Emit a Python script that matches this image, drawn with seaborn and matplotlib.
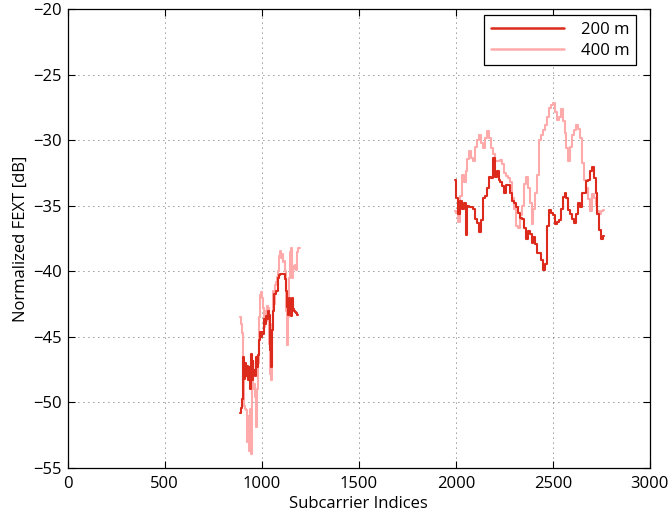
import numpy as np
import pandas as pd
import seaborn as sns
import matplotlib
matplotlib.use("Agg")
import matplotlib.pyplot as plt

# Subcarrier indices of the two measured bands
band_low_idx = list(range(890, 1196, 5))
band_high_idx = list(range(1995, 2766, 10))

# Normalized FEXT [dB], 200 m loop
fext_200_low = [
    -50.8, -50.4, -49.7, -46.5, -48.2, -47.0, -48.0, -47.2, -48.3, -47.3,
    -49.0, -46.3, -48.3, -46.8, -47.8, -47.5, -48.0, -46.5, -47.3, -46.4,
    -45.2, -44.6, -45.0, -44.6, -44.8, -43.6, -44.0, -43.4, -43.6, -43.0,
    -43.3, -46.0, -47.3, -44.5, -43.0, -41.7, -41.7, -41.5, -41.5, -40.5,
    -40.3, -40.2, -40.2, -40.2, -40.2, -40.2, -40.6, -40.8, -41.5, -42.7,
    -43.3, -42.0, -42.2, -43.4, -42.0, -42.9, -43.0, -43.1, -43.2, -43.3,
]
fext_200_high = [
    -33.0, -34.4, -35.6, -34.6, -35.2, -34.8, -37.2, -35.0, -35.1, -35.1,
    -35.2, -36.0, -36.3, -37.0, -36.1, -34.4, -34.2, -33.6, -32.8, -32.9,
    -31.3, -32.8, -32.3, -33.0, -33.2, -33.5, -34.0, -33.4, -33.4, -34.0,
    -34.6, -34.8, -35.1, -35.5, -35.9, -36.0, -36.7, -37.5, -36.9, -37.1,
    -37.8, -37.4, -37.9, -38.6, -38.6, -39.1, -39.9, -39.4, -36.5, -35.3,
    -35.5, -35.7, -36.4, -36.2, -36.1, -35.2, -34.3, -34.0, -34.4, -35.3,
    -35.6, -36.0, -36.3, -35.6, -34.8, -35.1, -34.0, -34.0, -33.1, -33.0,
    -32.3, -32.0, -32.9, -34.0, -35.6, -36.8, -37.5, -37.3,
]

# Normalized FEXT [dB], 400 m loop
fext_400_low = [
    -43.5, -44.0, -44.7, -47.5, -50.3, -50.5, -50.6, -53.0, -51.0, -53.7,
    -50.5, -53.9, -48.5, -47.8, -49.0, -48.6, -49.6, -51.9, -49.0, -47.0,
    -43.5, -41.8, -41.6, -42.0, -42.8, -44.2, -43.0, -43.8, -42.6, -42.8,
    -45.5, -47.8, -48.3, -44.0, -41.5, -42.5, -41.0, -40.8, -40.4, -40.0,
    -38.8, -38.4, -39.0, -38.7, -39.3, -39.2, -40.0, -40.7, -43.0, -45.6,
    -43.5, -40.5, -38.5, -38.2, -40.5, -39.6, -39.8, -39.5, -39.9, -38.5,
    -38.2, -38.2,
]
fext_400_high = [
    -35.4, -35.5, -36.2, -34.2, -32.6, -33.2, -32.3, -31.4, -30.8, -31.3,
    -31.6, -30.5, -30.0, -29.6, -30.2, -30.6, -29.8, -29.3, -29.8, -30.6,
    -31.0, -31.6, -31.6, -31.6, -31.5, -31.8, -32.5, -32.7, -32.9, -33.2,
    -34.4, -35.2, -36.5, -36.7, -35.7, -35.0, -33.3, -32.8, -33.6, -34.8,
    -36.4, -35.2, -34.0, -32.6, -30.0, -29.6, -29.2, -28.8, -28.2, -27.5,
    -27.3, -27.1, -27.8, -28.4, -28.2, -27.6, -28.5, -29.4, -30.6, -31.6,
    -30.5, -29.6, -29.2, -28.8, -29.1, -29.8, -31.7, -33.0, -33.6, -34.5,
    -35.4, -34.1, -34.4, -34.9, -35.4, -35.6, -35.4, -35.3,
]

series_labels = ["200 m", "400 m"]
x_ticks = [0, 500, 1000, 1500, 2000, 2500, 3000]
y_ticks = [-55, -50, -45, -40, -35, -30, -25, -20]


def segment(idx, vals, label, band):
    return pd.DataFrame({"Subcarrier": idx[:len(vals)], "FEXT": vals,
                         "Loop": label, "Band": band})


df = pd.concat([
    segment(band_low_idx, fext_200_low, series_labels[0], "low"),
    segment(band_high_idx, fext_200_high, series_labels[0], "high"),
    segment(band_low_idx, fext_400_low, series_labels[1], "low"),
    segment(band_high_idx, fext_400_high, series_labels[1], "high"),
], ignore_index=True)

sns.set_theme(style="white")
plt.rcParams["font.family"] = ["Open Sans", "DejaVu Sans"]
plt.rcParams["axes.unicode_minus"] = True
for key in ("text.color", "axes.labelcolor", "xtick.color", "ytick.color"):
    plt.rcParams[key] = "black"

fig = plt.figure(figsize=(6.7, 5.19), dpi=100)
ax = fig.add_axes([0.101, 0.0983, 0.869, 0.8834])

palette = {series_labels[0]: "#dc2b1c", series_labels[1]: "#ffaaaa"}

# 400 m underneath, 200 m on top
sns.lineplot(data=df[df["Loop"] == series_labels[1]], x="Subcarrier", y="FEXT",
             units="Band", estimator=None, sort=False, color=palette[series_labels[1]],
             linewidth=1.5, drawstyle="steps-mid", ax=ax, zorder=2, legend=False)
sns.lineplot(data=df[df["Loop"] == series_labels[0]], x="Subcarrier", y="FEXT",
             units="Band", estimator=None, sort=False, color=palette[series_labels[0]],
             linewidth=1.5, drawstyle="steps-mid", ax=ax, zorder=3, legend=False)

ax.set_xlim(0, 3000)
ax.set_ylim(-55, -20)
ax.set_xticks(x_ticks)
ax.set_yticks(y_ticks)
ax.set_xlabel("Subcarrier Indices", fontsize=12, labelpad=3)
ax.set_ylabel("Normalized FEXT [dB]", fontsize=12, labelpad=3)
ax.tick_params(direction="in", length=5, width=0.8, labelsize=12,
               top=True, right=True, bottom=True, left=True, pad=4)
ax.tick_params(axis="x", pad=6)
ax.grid(True, linestyle=(0, (1, 5)), linewidth=0.6, color="#333333")
for s in ax.spines.values():
    s.set_visible(True)
    s.set_color("black")
    s.set_linewidth(0.9)

handles = [plt.Line2D([], [], color=palette[l], linewidth=1.8) for l in series_labels]
leg = ax.legend(handles, series_labels, loc="upper right",
                bbox_to_anchor=(0.976, 0.988), borderaxespad=0, fontsize=12,
                handlelength=4.4, handletextpad=1.0, frameon=True, fancybox=False,
                framealpha=1, edgecolor="black", borderpad=0.4, labelspacing=0.3)
leg.get_frame().set_linewidth(0.9)

fig.savefig("out.png", dpi=100)
